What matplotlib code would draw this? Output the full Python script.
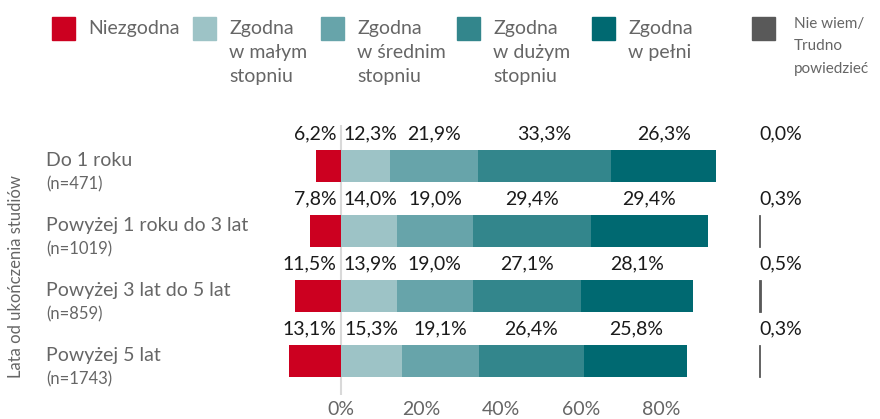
import matplotlib
matplotlib.use('Agg')
import matplotlib.pyplot as plt
import matplotlib.transforms as mtransforms
from matplotlib.patches import Rectangle

plt.rcParams['font.family'] = ['Lato', 'DejaVu Sans']

categories = ['Do 1 roku', 'Powyżej 1 roku do 3 lat', 'Powyżej 3 lat do 5 lat', 'Powyżej 5 lat']
counts = [471, 1019, 859, 1743]

niezgodna = [6.2, 7.8, 11.5, 13.1]
w_malym = [12.3, 14.0, 13.9, 15.3]
w_srednim = [21.9, 19.0, 19.0, 19.1]
w_duzym = [33.3, 29.4, 27.1, 26.4]
w_pelni = [26.3, 29.4, 28.1, 25.8]
nie_wiem = [0.0, 0.3, 0.5, 0.3]

legend_labels = ['Niezgodna', 'Zgodna\nw małym\nstopniu', 'Zgodna\nw średnim\nstopniu',
                 'Zgodna\nw dużym\nstopniu', 'Zgodna\nw pełni', 'Nie wiem/\nTrudno\npowiedzieć']
colors = ['#CC0020', '#9DC3C6', '#67A4AA', '#33868C', '#006971', '#595959']
xticks = [0, 20, 40, 60, 80]

GREY = '#666666'
W, H = 880, 419


def fmt(v):
    return '{:.1f}%'.format(v).replace('.', ',')


fig = plt.figure(figsize=(8.8, 4.19), dpi=100)
# axes covers px x 280..880, y 125..395
ax = fig.add_axes([280 / W, 24 / H, 600 / W, 270 / H])
ax.set_xlim(-15.25, 134.75)
ax.set_ylim(3.523, -0.631)
for s in ax.spines.values():
    s.set_visible(False)
ax.set_yticks([])
ax.set_xticks(xticks)
ax.set_xticklabels(['{}%'.format(t) for t in xticks], color=GREY, fontsize=14)
ax.tick_params(axis='x', length=0, pad=4)

ax.axvline(0, color='#d9d9d9', lw=1.5, zorder=0)

rows = list(range(len(categories)))
bh = 0.48

ax.barh(rows, [-v for v in niezgodna], height=bh, color=colors[0])
left = [0.0] * len(rows)
for k, (vals, c) in enumerate(zip([w_malym, w_srednim, w_duzym, w_pelni], colors[1:5])):
    ax.barh(rows, vals, left=left, height=bh, color=c)
    for i, v in enumerate(vals):
        xc = left[i] + v / 2
        if k == 0:
            xc = max(xc, 7.3)  # keep clear of the negative label
        ax.text(xc, i - 0.5, fmt(v), ha='center', va='center',
                fontsize=14, color='#1a1a1a')
    left = [l + v for l, v in zip(left, vals)]

for i, v in enumerate(niezgodna):
    ax.text(-1.2, i - 0.5, fmt(v), ha='right', va='center', fontsize=14, color='#1a1a1a')

nw_start = 104.5
for i, v in enumerate(nie_wiem):
    if v > 0:
        ax.barh(i, v, left=nw_start, height=bh, color=colors[5],
                edgecolor=colors[5], linewidth=0.6)
    ax.text(nw_start, i - 0.5, fmt(v), ha='left', va='center', fontsize=14, color='#1a1a1a')

# category labels
tr = mtransforms.blended_transform_factory(fig.transFigure, ax.transData)
for i, (cat, n) in enumerate(zip(categories, counts)):
    ax.text(46 / W, i - 0.09, cat, transform=tr, ha='left', va='center',
            fontsize=14, color=GREY)
    ax.text(46 / W, i + 0.28, '(n={})'.format(n), transform=tr, ha='left', va='center',
            fontsize=12, color=GREY)

fig.text(16 / W, 1 - 277 / H, 'Lata od ukończenia studiów', rotation=90,
         ha='center', va='center', fontsize=12, color=GREY)

# legend
sq_x = [52, 193, 321, 457, 592, 752]
tx_x = [88, 229, 357, 493, 628, 794]
for lab, c, sx, tx in zip(legend_labels, colors, sq_x, tx_x):
    fig.add_artist(Rectangle((sx / W, 1 - 40 / H), 23 / W, 23 / H, color=c,
                             transform=fig.transFigure))
    small = lab.startswith('Nie wiem')
    fig.text(tx / W, 1 - (17 if small else 20) / H, lab, ha='left', va='top',
             fontsize=11 if small else 14, color=GREY,
             linespacing=1.75 if small else 1.5)

fig.savefig('out.png', dpi=100)
